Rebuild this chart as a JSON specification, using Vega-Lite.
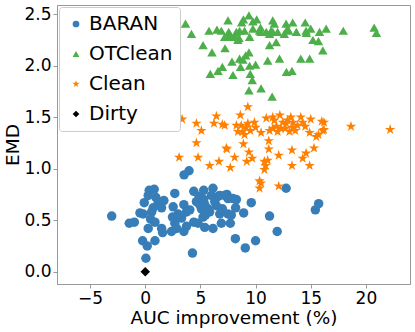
{
  "$schema": "https://vega.github.io/schema/vega-lite/v6.json",
  "width": 353,
  "height": 279,
  "autosize": "none",
  "padding": {"left": 57, "top": 5, "right": 5, "bottom": 48},
  "config": {
    "font": "DejaVu Sans",
    "view": {"stroke": "#999", "strokeWidth": 1},
    "axis": {"grid": false, "domainColor": "#999", "tickColor": "#999", "labelColor": "#000", "titleColor": "#000", "labelFontSize": 17, "titleFontSize": 18.5, "titleFontWeight": "normal", "tickSize": 4, "labelPadding": 2}
  },
  "data": {"values": [
    {"method":"BARAN","auc":-3.04,"emd":0.54},{"method":"BARAN","auc":-1.45,"emd":0.47},{"method":"BARAN","auc":-0.99,"emd":0.48},{"method":"BARAN","auc":-0.48,"emd":0.57},{"method":"BARAN","auc":-0.24,"emd":0.30},{"method":"BARAN","auc":0.18,"emd":0.25},{"method":"BARAN","auc":0.06,"emd":0.13},{"method":"BARAN","auc":-0.09,"emd":0.67},{"method":"BARAN","auc":0.27,"emd":0.42},{"method":"BARAN","auc":0.36,"emd":0.79},{"method":"BARAN","auc":0.27,"emd":0.74},{"method":"BARAN","auc":0.81,"emd":0.80},{"method":"BARAN","auc":0.97,"emd":0.72},{"method":"BARAN","auc":0.72,"emd":0.62},{"method":"BARAN","auc":0.58,"emd":0.58},{"method":"BARAN","auc":0.49,"emd":0.51},{"method":"BARAN","auc":0.88,"emd":0.48},{"method":"BARAN","auc":0.88,"emd":0.30},{"method":"BARAN","auc":1.48,"emd":0.42},{"method":"BARAN","auc":1.57,"emd":0.38},{"method":"BARAN","auc":1.48,"emd":0.62},{"method":"BARAN","auc":1.69,"emd":0.69},{"method":"BARAN","auc":2.38,"emd":0.39},{"method":"BARAN","auc":2.47,"emd":0.53},{"method":"BARAN","auc":2.53,"emd":0.63},{"method":"BARAN","auc":2.68,"emd":0.76},{"method":"BARAN","auc":2.68,"emd":0.47},{"method":"BARAN","auc":2.84,"emd":0.42},{"method":"BARAN","auc":2.98,"emd":0.56},{"method":"BARAN","auc":3.29,"emd":0.52},{"method":"BARAN","auc":3.5,"emd":0.65},{"method":"BARAN","auc":3.5,"emd":0.39},{"method":"BARAN","auc":3.74,"emd":0.44},{"method":"BARAN","auc":3.74,"emd":0.58},{"method":"BARAN","auc":3.52,"emd":0.94},{"method":"BARAN","auc":3.97,"emd":0.98},{"method":"BARAN","auc":4.04,"emd":0.60},{"method":"BARAN","auc":4.28,"emd":0.18},{"method":"BARAN","auc":4.4,"emd":0.78},{"method":"BARAN","auc":4.4,"emd":0.48},{"method":"BARAN","auc":4.64,"emd":0.68},{"method":"BARAN","auc":4.79,"emd":0.47},{"method":"BARAN","auc":4.88,"emd":0.73},{"method":"BARAN","auc":5.09,"emd":0.61},{"method":"BARAN","auc":5.24,"emd":0.53},{"method":"BARAN","auc":5.3,"emd":0.70},{"method":"BARAN","auc":5.39,"emd":0.43},{"method":"BARAN","auc":5.39,"emd":0.65},{"method":"BARAN","auc":5.55,"emd":0.58},{"method":"BARAN","auc":5.69,"emd":0.61},{"method":"BARAN","auc":5.3,"emd":0.79},{"method":"BARAN","auc":6.0,"emd":0.74},{"method":"BARAN","auc":6.14,"emd":0.42},{"method":"BARAN","auc":6.3,"emd":0.68},{"method":"BARAN","auc":6.45,"emd":0.64},{"method":"BARAN","auc":6.6,"emd":0.73},{"method":"BARAN","auc":6.75,"emd":0.56},{"method":"BARAN","auc":6.9,"emd":0.47},{"method":"BARAN","auc":6.99,"emd":0.61},{"method":"BARAN","auc":7.2,"emd":0.74},{"method":"BARAN","auc":7.4,"emd":0.75},{"method":"BARAN","auc":7.5,"emd":0.56},{"method":"BARAN","auc":7.71,"emd":0.47},{"method":"BARAN","auc":7.8,"emd":0.55},{"method":"BARAN","auc":7.95,"emd":0.71},{"method":"BARAN","auc":8.19,"emd":0.62},{"method":"BARAN","auc":8.26,"emd":0.70},{"method":"BARAN","auc":8.17,"emd":0.32},{"method":"BARAN","auc":8.92,"emd":0.57},{"method":"BARAN","auc":9.07,"emd":0.23},{"method":"BARAN","auc":9.61,"emd":0.67},{"method":"BARAN","auc":10.0,"emd":0.30},{"method":"BARAN","auc":11.27,"emd":0.54},{"method":"BARAN","auc":11.96,"emd":0.39},{"method":"BARAN","auc":12.77,"emd":0.81},{"method":"BARAN","auc":15.42,"emd":0.60},{"method":"BARAN","auc":15.72,"emd":0.66},{"method":"BARAN","auc":4.94,"emd":0.65},{"method":"BARAN","auc":5.45,"emd":0.55},{"method":"BARAN","auc":5.84,"emd":0.58},{"method":"BARAN","auc":6.14,"emd":0.81},{"method":"BARAN","auc":6.75,"emd":0.74},{"method":"BARAN","auc":7.5,"emd":0.71},{"method":"BARAN","auc":2.89,"emd":0.52},{"method":"BARAN","auc":1.17,"emd":0.68},{"method":"BARAN","auc":-0.18,"emd":0.56},
    {"method":"OTClean","auc":3.65,"emd":2.41},{"method":"OTClean","auc":4.19,"emd":2.31},{"method":"OTClean","auc":5.24,"emd":2.20},{"method":"OTClean","auc":5.78,"emd":2.34},{"method":"OTClean","auc":6.05,"emd":2.13},{"method":"OTClean","auc":5.9,"emd":1.92},{"method":"OTClean","auc":6.6,"emd":1.95},{"method":"OTClean","auc":6.99,"emd":1.99},{"method":"OTClean","auc":6.5,"emd":2.35},{"method":"OTClean","auc":6.9,"emd":2.34},{"method":"OTClean","auc":7.23,"emd":2.17},{"method":"OTClean","auc":7.5,"emd":2.44},{"method":"OTClean","auc":7.56,"emd":2.33},{"method":"OTClean","auc":7.8,"emd":2.28},{"method":"OTClean","auc":7.95,"emd":1.91},{"method":"OTClean","auc":7.86,"emd":2.04},{"method":"OTClean","auc":8.26,"emd":2.33},{"method":"OTClean","auc":8.4,"emd":2.25},{"method":"OTClean","auc":8.64,"emd":1.99},{"method":"OTClean","auc":8.55,"emd":2.07},{"method":"OTClean","auc":8.74,"emd":2.42},{"method":"OTClean","auc":8.85,"emd":2.06},{"method":"OTClean","auc":9.0,"emd":2.34},{"method":"OTClean","auc":9.1,"emd":2.10},{"method":"OTClean","auc":9.4,"emd":2.49},{"method":"OTClean","auc":9.4,"emd":2.13},{"method":"OTClean","auc":9.46,"emd":2.28},{"method":"OTClean","auc":9.46,"emd":2.0},{"method":"OTClean","auc":9.52,"emd":1.92},{"method":"OTClean","auc":9.7,"emd":1.86},{"method":"OTClean","auc":9.4,"emd":1.76},{"method":"OTClean","auc":9.76,"emd":2.36},{"method":"OTClean","auc":10.0,"emd":2.01},{"method":"OTClean","auc":10.1,"emd":2.45},{"method":"OTClean","auc":10.36,"emd":2.34},{"method":"OTClean","auc":10.5,"emd":2.33},{"method":"OTClean","auc":10.5,"emd":1.78},{"method":"OTClean","auc":11.1,"emd":2.05},{"method":"OTClean","auc":11.27,"emd":2.20},{"method":"OTClean","auc":11.56,"emd":2.44},{"method":"OTClean","auc":11.56,"emd":2.33},{"method":"OTClean","auc":11.7,"emd":2.41},{"method":"OTClean","auc":11.5,"emd":1.70},{"method":"OTClean","auc":11.87,"emd":2.23},{"method":"OTClean","auc":12.0,"emd":2.33},{"method":"OTClean","auc":12.17,"emd":2.07},{"method":"OTClean","auc":12.6,"emd":2.31},{"method":"OTClean","auc":12.77,"emd":2.41},{"method":"OTClean","auc":12.8,"emd":1.94},{"method":"OTClean","auc":13.0,"emd":2.34},{"method":"OTClean","auc":13.3,"emd":1.95},{"method":"OTClean","auc":13.37,"emd":2.42},{"method":"OTClean","auc":13.7,"emd":2.33},{"method":"OTClean","auc":14.1,"emd":2.07},{"method":"OTClean","auc":14.5,"emd":2.42},{"method":"OTClean","auc":14.58,"emd":2.34},{"method":"OTClean","auc":14.9,"emd":2.07},{"method":"OTClean","auc":15.0,"emd":2.36},{"method":"OTClean","auc":15.2,"emd":2.25},{"method":"OTClean","auc":15.7,"emd":2.24},{"method":"OTClean","auc":15.8,"emd":2.33},{"method":"OTClean","auc":16.1,"emd":2.15},{"method":"OTClean","auc":16.4,"emd":2.36},{"method":"OTClean","auc":17.95,"emd":2.34},{"method":"OTClean","auc":20.75,"emd":2.37},{"method":"OTClean","auc":20.96,"emd":2.32},{"method":"OTClean","auc":7.65,"emd":2.31},{"method":"OTClean","auc":8.1,"emd":2.29},{"method":"OTClean","auc":8.5,"emd":2.27},{"method":"OTClean","auc":8.55,"emd":2.34},{"method":"OTClean","auc":10.97,"emd":2.33},{"method":"OTClean","auc":11.27,"emd":2.31},{"method":"OTClean","auc":11.4,"emd":2.34},{"method":"OTClean","auc":7.4,"emd":2.28},{"method":"OTClean","auc":14.6,"emd":2.32},{"method":"OTClean","auc":9.76,"emd":2.43},{"method":"OTClean","auc":8.9,"emd":2.45},{"method":"OTClean","auc":7.2,"emd":2.28},{"method":"OTClean","auc":12.9,"emd":2.36},{"method":"OTClean","auc":10.45,"emd":2.37},
    {"method":"Clean","auc":3.34,"emd":1.48},{"method":"Clean","auc":4.64,"emd":1.44},{"method":"Clean","auc":5.09,"emd":1.37},{"method":"Clean","auc":4.64,"emd":1.25},{"method":"Clean","auc":3.07,"emd":1.11},{"method":"Clean","auc":4.79,"emd":1.11},{"method":"Clean","auc":5.84,"emd":1.03},{"method":"Clean","auc":6.23,"emd":1.44},{"method":"Clean","auc":6.45,"emd":1.51},{"method":"Clean","auc":6.99,"emd":1.43},{"method":"Clean","auc":7.2,"emd":1.42},{"method":"Clean","auc":6.68,"emd":1.07},{"method":"Clean","auc":7.35,"emd":1.20},{"method":"Clean","auc":7.4,"emd":1.19},{"method":"Clean","auc":7.71,"emd":1.01},{"method":"Clean","auc":8.1,"emd":1.11},{"method":"Clean","auc":8.26,"emd":1.42},{"method":"Clean","auc":8.4,"emd":1.36},{"method":"Clean","auc":8.62,"emd":1.52},{"method":"Clean","auc":8.8,"emd":1.36},{"method":"Clean","auc":8.9,"emd":1.24},{"method":"Clean","auc":9.0,"emd":1.33},{"method":"Clean","auc":9.2,"emd":1.07},{"method":"Clean","auc":9.3,"emd":1.60},{"method":"Clean","auc":9.3,"emd":1.44},{"method":"Clean","auc":9.4,"emd":1.16},{"method":"Clean","auc":9.52,"emd":1.37},{"method":"Clean","auc":9.7,"emd":1.10},{"method":"Clean","auc":9.9,"emd":1.45},{"method":"Clean","auc":10.0,"emd":1.40},{"method":"Clean","auc":10.36,"emd":0.88},{"method":"Clean","auc":10.5,"emd":0.86},{"method":"Clean","auc":10.36,"emd":0.81},{"method":"Clean","auc":10.5,"emd":1.35},{"method":"Clean","auc":10.8,"emd":1.07},{"method":"Clean","auc":10.9,"emd":1.03},{"method":"Clean","auc":10.8,"emd":0.99},{"method":"Clean","auc":11.1,"emd":1.08},{"method":"Clean","auc":11.2,"emd":1.27},{"method":"Clean","auc":11.27,"emd":1.37},{"method":"Clean","auc":11.2,"emd":1.19},{"method":"Clean","auc":10.97,"emd":1.49},{"method":"Clean","auc":11.56,"emd":1.50},{"method":"Clean","auc":11.7,"emd":1.47},{"method":"Clean","auc":11.9,"emd":1.41},{"method":"Clean","auc":12.0,"emd":1.36},{"method":"Clean","auc":12.1,"emd":1.13},{"method":"Clean","auc":12.1,"emd":0.83},{"method":"Clean","auc":12.2,"emd":1.52},{"method":"Clean","auc":12.47,"emd":1.45},{"method":"Clean","auc":12.7,"emd":1.39},{"method":"Clean","auc":12.9,"emd":1.47},{"method":"Clean","auc":13.07,"emd":1.36},{"method":"Clean","auc":13.2,"emd":1.50},{"method":"Clean","auc":13.3,"emd":1.18},{"method":"Clean","auc":13.3,"emd":1.03},{"method":"Clean","auc":13.4,"emd":1.45},{"method":"Clean","auc":13.6,"emd":1.37},{"method":"Clean","auc":13.8,"emd":1.42},{"method":"Clean","auc":14.1,"emd":1.50},{"method":"Clean","auc":14.27,"emd":1.45},{"method":"Clean","auc":14.5,"emd":1.41},{"method":"Clean","auc":14.27,"emd":1.10},{"method":"Clean","auc":14.58,"emd":1.15},{"method":"Clean","auc":14.9,"emd":1.35},{"method":"Clean","auc":15.0,"emd":1.48},{"method":"Clean","auc":14.9,"emd":1.03},{"method":"Clean","auc":15.3,"emd":1.20},{"method":"Clean","auc":15.5,"emd":1.31},{"method":"Clean","auc":15.7,"emd":1.33},{"method":"Clean","auc":16.0,"emd":1.46},{"method":"Clean","auc":16.2,"emd":1.45},{"method":"Clean","auc":16.1,"emd":1.37},{"method":"Clean","auc":16.2,"emd":1.38},{"method":"Clean","auc":18.65,"emd":1.41},{"method":"Clean","auc":22.2,"emd":1.38},{"method":"Clean","auc":8.7,"emd":1.42},{"method":"Clean","auc":9.15,"emd":1.40},{"method":"Clean","auc":12.77,"emd":1.44},{"method":"Clean","auc":13.37,"emd":1.40},{"method":"Clean","auc":12.3,"emd":1.39},{"method":"Clean","auc":11.56,"emd":1.39},
    {"method":"Dirty","auc":0,"emd":0}
  ]},
  "mark": {"type": "point", "filled": true, "opacity": 1, "size": 90},
  "encoding": {
    "x": {"field": "auc", "type": "quantitative", "title": "AUC improvement (%)",
      "scale": {"domain": [-8, 24], "nice": false, "zero": false},
      "axis": {"values": [-5, 0, 5, 10, 15, 20], "titlePadding": 2}},
    "y": {"field": "emd", "type": "quantitative", "title": "EMD",
      "scale": {"domain": [-0.12, 2.59], "nice": false, "zero": false},
      "axis": {"values": [0, 0.5, 1, 1.5, 2, 2.5], "format": ".1f", "titleX": -45, "titleY": 139.5, "titleAngle": -90, "titleAlign": "center", "titleBaseline": "middle"}},
    "color": {"field": "method", "type": "nominal",
      "scale": {"domain": ["BARAN", "OTClean", "Clean", "Dirty"], "range": ["#377eb8", "#4daf4a", "#ff7f00", "#000000"]},
      "legend": {"title": null, "orient": "top-left", "offset": 2, "labelFontSize": 20, "symbolSize": 45, "symbolOffset": 0, "labelOffset": 3, "rowPadding": 10, "padding": 7, "fillColor": "white", "strokeColor": "#ccc", "cornerRadius": 3, "labelColor": "#000"}},
    "shape": {"field": "method", "type": "nominal",
      "scale": {"domain": ["BARAN", "OTClean", "Clean", "Dirty"], "range": ["circle", "triangle-up", "M0,-1.15L0.258,-0.355L1.094,-0.355L0.418,0.136L0.676,0.93L0,0.439L-0.676,0.93L-0.418,0.136L-1.094,-0.355L-0.258,-0.355Z", "diamond"]},
      "legend": {"title": null}}
  }
}
